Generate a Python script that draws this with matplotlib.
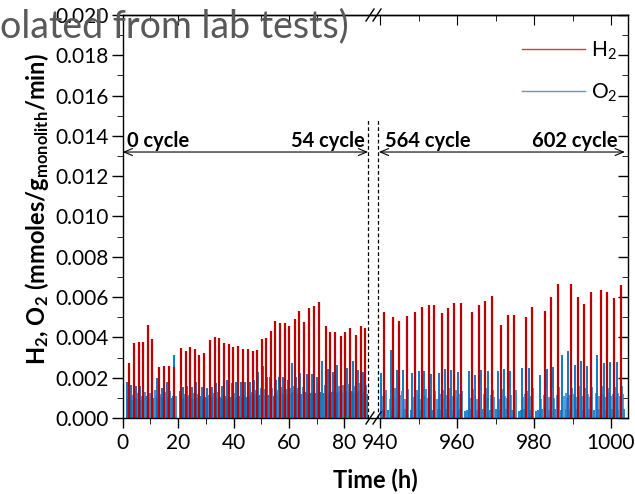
import matplotlib.pyplot as plt
from matplotlib.lines import Line2D

plt.rcParams['font.family'] = ['Lato', 'DejaVu Sans']
plt.rcParams['mathtext.default'] = 'regular'

red = '#c00000'
blue = '#0070c0'

# ---- first run: 0 - 54 cycle ----
h2_t1 = [2.4, 4.1, 5.9, 7.3, 9.0, 10.6, 13.0, 14.8, 16.6, 18.4, 21.1, 22.9, 24.3, 26.1,
         27.7, 29.5, 31.5, 33.3, 34.9, 36.6, 38.4, 39.9, 41.7, 43.4, 45.1, 46.9, 48.5,
         50.3, 51.7, 53.5, 55.1, 56.7, 58.6, 60.0, 62.2, 63.8, 65.6, 67.4, 69.2, 70.9,
         73.4, 74.8, 76.6, 78.7, 80.3, 82.1, 84.1, 86.0, 87.6]
h2_v1 = [0.00271, 0.00371, 0.00379, 0.00376, 0.00462, 0.00390, 0.00255, 0.00258, 0.00260,
         0.00255, 0.00349, 0.00333, 0.00354, 0.00341, 0.00313, 0.00321, 0.00387, 0.00400,
         0.00399, 0.00371, 0.00367, 0.00351, 0.00359, 0.00342, 0.00341, 0.00334, 0.00337,
         0.00390, 0.00395, 0.00433, 0.00483, 0.00470, 0.00470, 0.00458, 0.00491, 0.00531,
         0.00478, 0.00548, 0.00557, 0.00574, 0.00457, 0.00428, 0.00428, 0.00407, 0.00428,
         0.00445, 0.00412, 0.00458, 0.00445]

o2_t1 = [1.4, 3.0, 4.7, 6.3, 9.0, 12.3, 14.1, 15.9, 18.6, 20.8, 21.7, 23.3, 24.9, 26.5,
         28.5, 30.3, 32.1, 33.7, 35.7, 37.5, 39.3, 40.9, 42.6, 44.3, 46.0, 47.5, 49.0,
         50.8, 52.0, 53.2, 55.2, 56.5, 58.0, 59.6, 61.0, 62.6, 64.0, 66.4, 68.2, 70.0,
         72.1, 74.2, 75.8, 77.2, 78.7, 80.9, 82.1, 83.3, 85.1, 86.9]
o2_v1 = [0.00177, 0.00164, 0.00159, 0.00159, 0.00197, 0.00200, 0.00147, 0.00180, 0.00313,
         0.00134, 0.00155, 0.00159, 0.00155, 0.00180, 0.00155, 0.00147, 0.00155, 0.00172,
         0.00159, 0.00189, 0.00172, 0.00180, 0.00180, 0.00180, 0.00180, 0.00189, 0.00230,
         0.00258, 0.00205, 0.00205, 0.00189, 0.00205, 0.00205, 0.00189, 0.00271, 0.00205,
         0.00222, 0.00218, 0.00218, 0.00205, 0.00283, 0.00242, 0.00230, 0.00263, 0.00242,
         0.00247, 0.00230, 0.00283, 0.00238, 0.00230]
o2_t1b = [2.1, 3.7, 5.4, 7.0, 8.1, 9.8, 11.5, 13.3, 15.1, 17.0, 19.2, 22.4, 24.0, 25.6,
          27.3, 29.2, 31.0, 32.8, 34.5, 36.4, 38.2, 40.0, 41.7, 43.4, 45.1, 46.8, 48.3,
          50.0, 51.5, 54.0, 55.9, 57.3, 58.9, 60.3, 61.8, 63.3, 65.0, 67.1, 69.0, 71.0,
          73.0, 75.0, 76.5, 78.0, 79.6, 81.5, 84.0, 85.8, 87.7]
o2_v1b = [0.00120, 0.00115, 0.00125, 0.00110, 0.00130, 0.00125, 0.00140, 0.00120, 0.00130,
          0.00135, 0.00110, 0.00120, 0.00115, 0.00125, 0.00120, 0.00130, 0.00115, 0.00125,
          0.00130, 0.00120, 0.00135, 0.00125, 0.00130, 0.00120, 0.00135, 0.00130, 0.00140,
          0.00150, 0.00145, 0.00150, 0.00140, 0.00155, 0.00145, 0.00150, 0.00160, 0.00150,
          0.00155, 0.00150, 0.00160, 0.00150, 0.00165, 0.00160, 0.00170, 0.00160, 0.00165,
          0.00170, 0.00160, 0.00175, 0.00165]
o2_t1c = [1.8, 2.6, 3.4, 4.3, 5.1, 5.8, 6.7, 7.6, 8.5, 9.4, 10.3, 11.0, 11.9, 12.8, 13.7,
          14.5, 15.4, 16.3, 17.4, 18.1, 21.3, 22.0, 22.8, 23.7, 24.5, 25.2, 26.1, 26.9,
          27.8, 28.9, 29.7, 30.6, 31.5, 32.4, 33.2, 34.1, 35.0, 36.0, 36.9, 37.8, 38.7,
          39.6, 40.4, 41.3, 42.1, 42.9, 43.8, 44.6, 45.5, 46.4, 47.1, 47.9, 48.7, 49.5,
          50.4, 51.2, 52.5, 53.6, 54.5, 55.5, 56.1, 56.9, 57.6, 58.4, 59.2, 60.0, 60.7,
          61.4, 62.2, 63.0, 63.7, 64.5, 65.4, 66.0, 66.8, 67.7, 68.5, 69.4, 70.4, 71.3,
          72.5, 73.5, 74.6, 75.4, 76.1, 76.9, 77.6, 78.3, 79.1, 80.0, 80.5, 81.2, 81.8,
          82.6, 83.6, 84.5, 85.4, 86.3, 87.2, 88.1]
o2_v1c = [0.00095, 0.00105, 0.00090, 0.00100, 0.00095, 0.00105, 0.00090, 0.00100, 0.00110,
          0.00095, 0.00105, 0.00100, 0.00110, 0.00095, 0.00105, 0.00100, 0.00090, 0.00105,
          0.00100, 0.00110, 0.00085, 0.00100, 0.00095, 0.00105, 0.00100, 0.00095, 0.00105,
          0.00100, 0.00110, 0.00095, 0.00105, 0.00100, 0.00095, 0.00105, 0.00110, 0.00100,
          0.00105, 0.00095, 0.00110, 0.00100, 0.00105, 0.00110, 0.00100, 0.00105, 0.00110,
          0.00100, 0.00115, 0.00105, 0.00110, 0.00115, 0.00105, 0.00120, 0.00110, 0.00115,
          0.00120, 0.00110, 0.00115, 0.00120, 0.00110, 0.00125, 0.00115, 0.00120, 0.00125,
          0.00115, 0.00120, 0.00125, 0.00120, 0.00130, 0.00120, 0.00125, 0.00130, 0.00120,
          0.00125, 0.00130, 0.00120, 0.00125, 0.00130, 0.00125, 0.00120, 0.00130, 0.00125,
          0.00135, 0.00125, 0.00130, 0.00135, 0.00125, 0.00130, 0.00135, 0.00125, 0.00130,
          0.00135, 0.00125, 0.00130, 0.00135, 0.00125, 0.00130, 0.00135, 0.00125, 0.00130,
          0.00120]

# ---- second run: 564 - 602 cycle ----
h2_t2 = [941.1, 943.5, 945.0, 946.9, 949.1, 950.8, 952.6, 954.0, 956.0, 957.6, 959.3,
         961.0, 964.0, 965.7, 967.3, 969.0, 971.4, 973.2, 974.8, 977.8, 979.4, 982.9,
         984.4, 986.3, 989.6, 991.3, 993.0, 994.7, 997.3, 998.9, 1000.8, 1002.5]
h2_v2 = [0.00528, 0.00500, 0.00483, 0.00506, 0.00528, 0.00553, 0.00561, 0.00561, 0.00523,
         0.00544, 0.00569, 0.00572, 0.00524, 0.00561, 0.00581, 0.00605, 0.00462, 0.00511,
         0.00511, 0.00503, 0.00549, 0.00531, 0.00599, 0.00665, 0.00664, 0.00602, 0.00564,
         0.00627, 0.00635, 0.00624, 0.00597, 0.00660]

o2_t2 = [940.2, 942.8, 944.3, 946.1, 948.4, 950.0, 951.3, 953.2, 955.3, 956.9, 958.4,
         960.2, 963.1, 964.8, 966.2, 968.1, 970.6, 972.2, 973.8, 977.0, 978.6, 981.6,
         983.5, 985.0, 987.4, 988.9, 990.6, 992.2, 993.7, 996.4, 998.2, 999.7, 1001.5]
o2_v2 = [0.00225, 0.00337, 0.00238, 0.00238, 0.00222, 0.00233, 0.00233, 0.00217, 0.00222,
         0.00242, 0.00238, 0.00230, 0.00233, 0.00213, 0.00238, 0.00233, 0.00233, 0.00243,
         0.00235, 0.00247, 0.00247, 0.00213, 0.00242, 0.00252, 0.00313, 0.00334, 0.00263,
         0.00284, 0.00258, 0.00313, 0.00271, 0.00280, 0.00276]
o2_t2b = [941.6, 943.9, 945.6, 947.4, 949.6, 951.0, 952.0, 954.4, 956.3, 957.9, 959.7,
          961.4, 964.3, 965.9, 967.6, 969.4, 971.8, 973.4, 975.2, 978.1, 979.8, 983.2,
          984.6, 986.6, 989.9, 991.6, 993.3, 995.0, 997.6, 999.2, 1001.1, 1002.8]
o2_v2b = [0.00140, 0.00150, 0.00135, 0.00145, 0.00140, 0.00130, 0.00145, 0.00135, 0.00140,
          0.00150, 0.00140, 0.00135, 0.00145, 0.00140, 0.00150, 0.00140, 0.00145, 0.00150,
          0.00140, 0.00135, 0.00150, 0.00145, 0.00150, 0.00155, 0.00150, 0.00160, 0.00150,
          0.00155, 0.00160, 0.00150, 0.00155, 0.00160]
o2_t2d = [940.6, 942.5, 943.3, 944.0, 945.3, 946.4, 947.0, 948.8, 949.8, 950.3, 951.6,
          952.3, 953.0, 953.9, 954.7, 955.6, 956.6, 957.4, 958.1, 959.0, 960.0, 960.8,
          963.4, 964.6, 965.1, 966.0, 966.9, 967.9, 968.8, 969.7, 970.9, 971.5, 972.5,
          973.1, 974.1, 977.2, 977.7, 978.4, 979.2, 981.9, 982.5, 983.8, 984.3, 985.3,
          985.9, 987.7, 988.2, 988.6, 989.2, 990.3, 990.9, 991.8, 992.5, 993.9, 994.5,
          996.1, 996.8, 997.9, 998.5, 999.5, 1000.1, 1000.6, 1001.3, 1001.8, 1002.3,
          1003.0]
o2_v2d = [0.00110, 0.00095, 0.00120, 0.00100, 0.00115, 0.00095, 0.00110, 0.00105, 0.00120,
          0.00095, 0.00110, 0.00100, 0.00115, 0.00105, 0.00095, 0.00120, 0.00100, 0.00115,
          0.00095, 0.00110, 0.00105, 0.00120, 0.00100, 0.00115, 0.00095, 0.00110, 0.00120,
          0.00100, 0.00115, 0.00105, 0.00095, 0.00120, 0.00110, 0.00100, 0.00115, 0.00105,
          0.00120, 0.00100, 0.00110, 0.00095, 0.00115, 0.00105, 0.00120, 0.00100, 0.00115,
          0.00110, 0.00125, 0.00100, 0.00115, 0.00120, 0.00105, 0.00125, 0.00110, 0.00120,
          0.00105, 0.00125, 0.00110, 0.00120, 0.00105, 0.00125, 0.00110, 0.00120, 0.00105,
          0.00125, 0.00110, 0.00120]
o2_t2c = [940.9, 942.2, 943.0, 944.8, 946.6, 948.0, 949.4, 950.5, 951.8, 953.6, 955.0,
          955.8, 957.2, 958.9, 960.6, 962.0, 962.6, 963.6, 965.3, 966.7, 968.6, 970.1,
          971.1, 972.7, 974.3, 976.0, 976.5, 977.4, 979.0, 980.5, 981.0, 982.2, 984.0,
          985.5, 986.9, 988.3, 989.3, 991.0, 992.6, 994.2, 995.6, 996.9, 998.6, 1000.2,
          1001.9, 1003.4]
o2_v2c = [0.00045, 0.00040, 0.00045, 0.00040, 0.00045, 0.00040, 0.00045, 0.00040, 0.00045,
          0.00040, 0.00045, 0.00040, 0.00045, 0.00040, 0.00045, 0.00035, 0.00040, 0.00045,
          0.00040, 0.00045, 0.00040, 0.00045, 0.00040, 0.00045, 0.00040, 0.00035, 0.00040,
          0.00045, 0.00040, 0.00035, 0.00040, 0.00045, 0.00040, 0.00045, 0.00040, 0.00045,
          0.00040, 0.00045, 0.00040, 0.00045, 0.00040, 0.00045, 0.00040, 0.00045, 0.00040,
          0.00045]

W, H = 635, 494
fig = plt.figure(figsize=(6.35, 4.94), dpi=100)
bot, top = 418, 15
ax1 = fig.add_axes([122.7 / W, 1 - bot / H, (372 - 122.7) / W, (bot - top) / H])
ax2 = fig.add_axes([372 / W, 1 - bot / H, (628 - 372) / W, (bot - top) / H])

ax1.vlines(o2_t1c, 0, o2_v1c, color=blue, lw=1.3)
ax1.vlines(o2_t1, 0, o2_v1, color=blue, lw=1.3)
ax1.vlines(o2_t1b, 0, o2_v1b, color='#3b8ad0', lw=1.3)
ax1.vlines(h2_t1, 0, h2_v1, color=red, lw=1.6)
ax2.vlines(o2_t2c, 0, o2_v2c, color=blue, lw=1.2)
ax2.vlines(o2_t2d, 0, o2_v2d, color='#2a7fcc', lw=1.1)
ax2.vlines(o2_t2, 0, o2_v2, color=blue, lw=1.3)
ax2.vlines(o2_t2b, 0, o2_v2b, color='#3b8ad0', lw=1.3)
ax2.vlines(h2_t2, 0, h2_v2, color=red, lw=1.6)

ax1.set_xlim(0, 90)
ax2.set_xlim(940 - 8 / 3.85, 940 + 248 / 3.85)
for ax in (ax1, ax2):
    ax.set_ylim(0, 0.020)
    for s in ax.spines.values():
        s.set_linewidth(1.0)
    ax.tick_params(labelsize=15, width=1.0)
    ax.tick_params(axis='x', which='major', length=7, pad=4)
    ax.tick_params(axis='x', which='minor', length=4)

ax1.set_xticks([0, 20, 40, 60, 80])
ax1.set_xticks([10, 30, 50, 70], minor=True)
ax2.set_xticks([940, 960, 980, 1000])
ax2.set_xticks([950, 970, 990], minor=True)
ax1.set_yticks([i * 0.002 for i in range(11)])
ax1.set_yticks([0.001 + i * 0.002 for i in range(10)], minor=True)
ax1.set_yticklabels(['%.3f' % (i * 0.002) for i in range(11)])
ax1.tick_params(axis='y', which='major', length=8, pad=2)
ax1.tick_params(axis='y', which='minor', length=4)
ax1.spines['right'].set_visible(False)
ax2.spines['left'].set_visible(False)
ax2.set_yticks([i * 0.002 for i in range(11)])
ax2.set_yticks([0.001 + i * 0.002 for i in range(10)], minor=True)
ax2.tick_params(axis='y', which='both', left=False, labelleft=False, right=True,
                direction='in')
ax2.tick_params(axis='y', which='major', length=7)
ax2.tick_params(axis='y', which='minor', length=4)

# top ticks pointing inward
for ax in (ax1, ax2):
    sec = ax.secondary_xaxis('top')
    sec.set_xticks(ax.get_xticks())
    sec.set_xticks(ax.get_xticks(minor=True), minor=True)
    sec.tick_params(which='both', direction='in', labeltop=False)
    sec.tick_params(which='major', length=7)
    sec.tick_params(which='minor', length=4)
    sec.spines['top'].set_linewidth(1.0)

# dashed lines at the break
ax1.axvline(88.7, ymin=0, ymax=0.74, color='black', ls=(0, (3, 2)), lw=0.9)
ax2.axvline(939.6, ymin=0, ymax=0.74, color='black', ls=(0, (3, 2)), lw=0.9)

# break marks
for yp in (bot, top):
    for xc in (370, 377):
        fig.add_artist(Line2D([(xc - 4) / W, (xc + 4) / W],
                              [1 - (yp + 6) / H, 1 - (yp - 6) / H],
                              color='black', lw=1.0))

# cycle arrows
ay = 0.0132
ax1.annotate('', xy=(0, ay), xytext=(88.6, ay),
             arrowprops=dict(arrowstyle='<->,head_length=0.6,head_width=0.25', lw=0.8,
                             shrinkA=0, shrinkB=0))
ax2.annotate('', xy=(939.7, ay), xytext=(1003.6, ay),
             arrowprops=dict(arrowstyle='<->,head_length=0.6,head_width=0.25', lw=0.8,
                             shrinkA=0, shrinkB=0))
fig.text(127 / W, 1 - 147 / H, '0 cycle', fontsize=14.5, fontweight='bold', va='baseline')
fig.text(365 / W, 1 - 147 / H, '54 cycle', fontsize=14.5, fontweight='bold', va='baseline',
         ha='right')
fig.text(385 / W, 1 - 147 / H, '564 cycle', fontsize=14.5, fontweight='bold', va='baseline')
fig.text(618 / W, 1 - 147 / H, '602 cycle', fontsize=14.5, fontweight='bold', va='baseline',
         ha='right')

# legend
handles = [Line2D([], [], color='#d93a3a', lw=1.0), Line2D([], [], color='#5a9bd5', lw=1.0)]
ax2.legend(handles, ['H$_2$', 'O$_2$'], loc='upper right', bbox_to_anchor=(1.0, 0.965),
           frameon=False, fontsize=15, handlelength=3.0, handletextpad=0.3,
           labelspacing=0.95, borderaxespad=0.1)

fig.text(37 / W, 1 - 209 / H, 'H$_2$, O$_2$ (mmoles/g$_{monolith}$/min)', rotation=90,
         fontsize=17, fontweight='bold', ha='center', va='center')
fig.text(375 / W, 1 - 488 / H, 'Time (h)', fontsize=17, fontweight='bold', ha='center',
         va='baseline')

fig.text(0, 1 - 37 / H, 'olated from lab tests)', fontsize=27, color='#595959',
         va='baseline', ha='left')

fig.savefig('out.png', dpi=100)
